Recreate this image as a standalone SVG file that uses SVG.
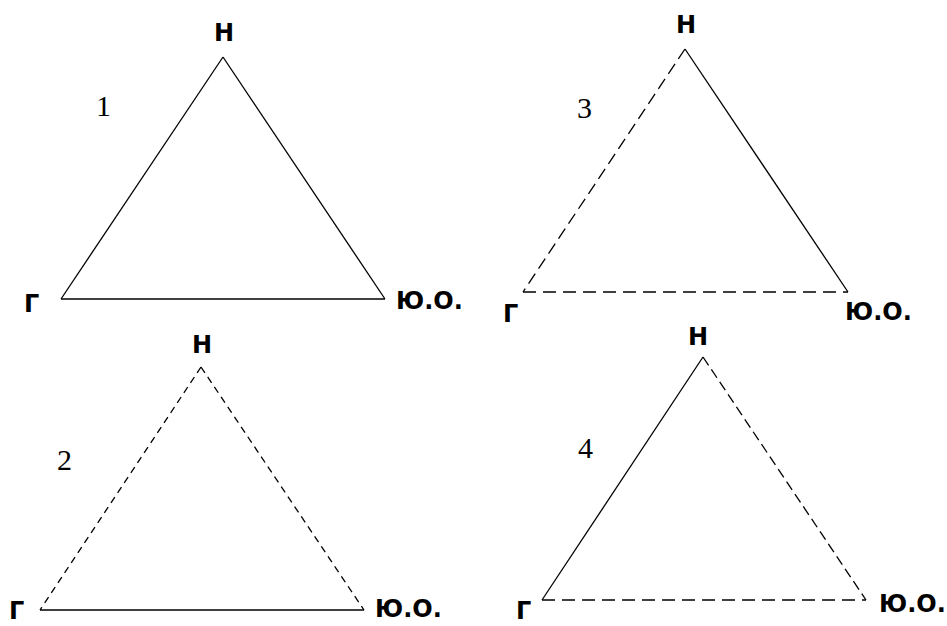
<svg xmlns="http://www.w3.org/2000/svg" width="947" height="626" viewBox="0 0 947 626">
<style>
.lbl{font-family:"DejaVu Sans","Verdana",sans-serif;font-weight:bold;font-size:24px;fill:#000}
.num{font-family:"Liberation Serif","Times New Roman",serif;font-size:30px;fill:#000}
.ln{stroke:#000;stroke-width:1.3;fill:none}
.d1{stroke-dasharray:12 6}
.d2{stroke-dasharray:7 5}
.d3{stroke-dasharray:10 5}
.db{stroke-dasharray:13 7}
</style>
<rect width="947" height="626" fill="#fff"/>
<g id="connectors">
  <line class="ln" x1="223" y1="57" x2="61" y2="299"/>
  <line class="ln" x1="223" y1="57" x2="385" y2="299"/>
  <line class="ln" x1="61" y1="299" x2="385" y2="299"/>

  <line class="ln d1" x1="685" y1="49" x2="523" y2="292"/>
  <line class="ln" x1="685" y1="49" x2="848" y2="292"/>
  <line class="ln db" x1="523" y1="292" x2="848" y2="292"/>

  <line class="ln d2" x1="201" y1="367" x2="40" y2="610"/>
  <line class="ln d2" x1="201" y1="367" x2="364" y2="610"/>
  <line class="ln" x1="40" y1="610" x2="364" y2="610"/>

  <line class="ln" x1="703" y1="357" x2="542" y2="600"/>
  <line class="ln d3" x1="703" y1="357" x2="866" y2="600"/>
  <line class="ln db" x1="542" y1="600" x2="866" y2="600"/>
</g>
<g id="tri1">
  <text class="num" x="96" y="116">1</text>
  <text class="lbl" x="224" y="41" text-anchor="middle">Н</text>
  <text class="lbl" x="24" y="312">Г</text>
  <text class="lbl" x="396" y="309">Ю.О.</text>
</g>
<g id="tri3">
  <text class="num" x="577" y="118">3</text>
  <text class="lbl" x="686" y="33" text-anchor="middle">Н</text>
  <text class="lbl" x="503" y="322">Г</text>
  <text class="lbl" x="845" y="320">Ю.О.</text>
</g>
<g id="tri2">
  <text class="num" x="57" y="470">2</text>
  <text class="lbl" x="202" y="353" text-anchor="middle">Н</text>
  <text class="lbl" x="9" y="619">Г</text>
  <text class="lbl" x="375" y="617">Ю.О.</text>
</g>
<g id="tri4">
  <text class="num" x="578" y="458">4</text>
  <text class="lbl" x="698" y="345" text-anchor="middle">Н</text>
  <text class="lbl" x="516" y="619">Г</text>
  <text class="lbl" x="879" y="612">Ю.О.</text>
</g>
</svg>
